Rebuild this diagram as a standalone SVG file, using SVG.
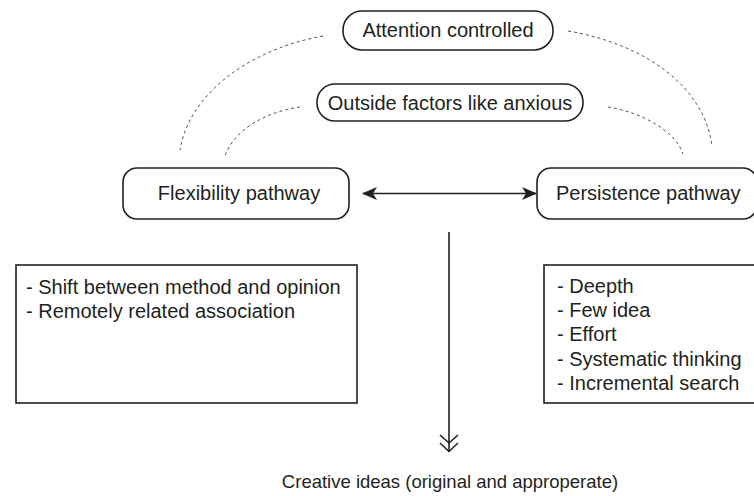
<svg xmlns="http://www.w3.org/2000/svg" width="754" height="496" viewBox="0 0 754 496">
<defs>
<style>
.box{fill:#fff;stroke:#231f20;stroke-width:1.6}
.t{font-family:"Liberation Sans",Arial,sans-serif;font-size:20px;fill:#231f20}
.c{text-anchor:middle}
.dash{fill:none;stroke:#555;stroke-width:1;stroke-dasharray:3 3}
.ln{fill:none;stroke:#231f20;stroke-width:1.6}
</style>
<marker id="dart" viewBox="0 0 15 13" refX="14" refY="6.5" markerWidth="15" markerHeight="13" markerUnits="userSpaceOnUse" orient="auto-start-reverse">
<path d="M0 0 L15 6.5 L0 13 L4 6.5 Z" fill="#231f20"/>
</marker>
<marker id="chev" viewBox="0 0 20 19" refX="10" refY="18" markerWidth="20" markerHeight="19" markerUnits="userSpaceOnUse" orient="0">
<path d="M1 1 L10 9 L19 1 M1 9 L10 17.5 L19 9" fill="none" stroke="#231f20" stroke-width="1.6"/>
</marker>
</defs>
<rect width="754" height="496" fill="#fff"/>
<g id="connectors">
<path class="dash" d="M323 36 C255 48 190 90 180 150"/>
<path class="dash" d="M300 107 C265 112 234 130 225 156"/>
<path class="dash" d="M568 31 C650 45 705 90 712 146"/>
<path class="dash" d="M608 107 C640 112 675 130 683 154"/>
<line class="ln" x1="363" y1="193.5" x2="536" y2="193.5" marker-start="url(#dart)" marker-end="url(#dart)"/>
<line class="ln" x1="449" y1="232" x2="449" y2="452" marker-end="url(#chev)"/>
</g>
<g id="attention">
<rect class="box" x="343" y="11" width="210" height="39" rx="19"/>
<text class="t c" x="448" y="37">Attention controlled</text>
</g>
<g id="outside">
<rect class="box" x="317" y="84" width="266" height="37" rx="18"/>
<text class="t c" x="450" y="110">Outside factors like anxious</text>
</g>
<g id="flexibility">
<rect class="box" x="123" y="168" width="226" height="51" rx="14"/>
<text class="t c" x="239" y="200">Flexibility pathway</text>
</g>
<g id="persistence">
<rect class="box" x="537" y="168" width="220" height="51" rx="14"/>
<text class="t" x="556" y="200">Persistence pathway</text>
</g>
<g id="flex-list">
<rect class="box" x="16" y="265" width="341" height="138"/>
<text class="t" x="26" y="294">- Shift between method and opinion</text>
<text class="t" x="26" y="318">- Remotely related association</text>
</g>
<g id="pers-list">
<rect class="box" x="544" y="265" width="214" height="138"/>
<text class="t" x="557" y="293">- Deepth</text>
<text class="t" x="557" y="317">- Few idea</text>
<text class="t" x="557" y="341">- Effort</text>
<text class="t" x="557" y="366">- Systematic thinking</text>
<text class="t" x="557" y="390">- Incremental search</text>
</g>
<g id="creative">
<text class="t c" x="450" y="488" style="font-size:18.5px">Creative ideas (original and approperate)</text>
</g>
</svg>
